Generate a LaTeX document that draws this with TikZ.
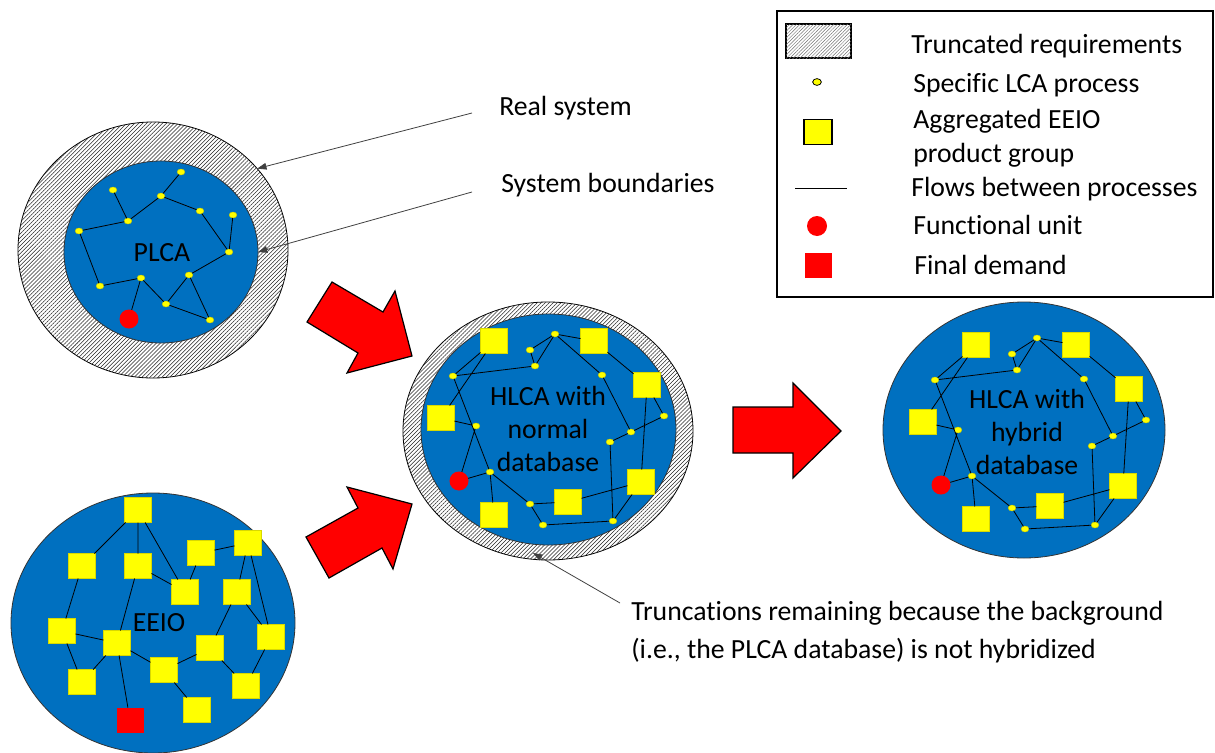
\documentclass[tikz,border=0pt]{standalone}
\usepackage{fontspec}
\setmainfont{Carlito}[Ligatures=NoCommon]
\usetikzlibrary{shapes.geometric,patterns.meta,arrows.meta}
\definecolor{cblue}{HTML}{0070C0}
\definecolor{cyel}{HTML}{FFFF00}
\definecolor{cred}{HTML}{FF0000}
\tikzset{
  dot/.style={ellipse, fill=cyel, draw=cyel!80!black, line width=0.3pt, minimum width=5.8pt, minimum height=4.5pt, inner sep=0pt, outer sep=0pt},
  sq/.style={rectangle, fill=cyel, draw=cyel!85!black, line width=0.3pt, minimum width=20.25pt, minimum height=18.75pt, inner sep=0pt, outer sep=0pt},
  fu/.style={circle, fill=cred, minimum size=14.25pt, inner sep=0pt, outer sep=0pt},
  fd/.style={rectangle, fill=cred, minimum width=20.25pt, minimum height=18.75pt, inner sep=0pt, outer sep=0pt},
  flow/.style={draw=black, line width=0.6pt},
  disk/.style={ellipse, fill=cblue, draw=black!80, line width=0.6pt, inner sep=0pt, outer sep=0pt},
  ring/.style={ellipse, fill=white, postaction={pattern={Lines[angle=45,distance=2.1pt,line width=0.4pt]}, pattern color=black!85}, draw=black, line width=0.6pt, inner sep=0pt, outer sep=0pt},
  bigarrow/.style={fill=cred, draw=black, line width=0.9pt, line join=miter},
  txt/.style={font=\fontsize{20.8}{24.75}\selectfont, inner sep=0pt, align=center},
  ltxt/.style={font=\fontsize{20.8}{24.75}\selectfont, inner sep=0pt, anchor=base west},
  callout/.style={draw=black!75, line width=0.6pt, -{Triangle[length=7pt,width=5pt]}},
}
\newcommand\hlcanet[1]{%
  \node[sq] (#1m1) at (494,341) {};
  \node[sq] (#1m2) at (594,341) {};
  \node[sq] (#1m3) at (647,385) {};
  \node[sq] (#1m4) at (441,418) {};
  \node[sq] (#1m5) at (641,482) {};
  \node[sq] (#1m6) at (568,502) {};
  \node[sq] (#1m7) at (494,515) {};
  \node[dot] (#1d1) at (555,334) {};
  \node[dot] (#1d2) at (530,350) {};
  \node[dot] (#1d3) at (535,366) {};
  \node[dot] (#1d4) at (453,376) {};
  \node[dot] (#1d5) at (602,375) {};
  \node[dot] (#1d6) at (664,416) {};
  \node[dot] (#1d7) at (476,426) {};
  \node[dot] (#1d8) at (631,432) {};
  \node[dot] (#1d9) at (610,442) {};
  \node[dot] (#1d10) at (490,472) {};
  \node[dot] (#1d11) at (530,504) {};
  \node[dot] (#1d12) at (543,525) {};
  \node[dot] (#1d13) at (613,521) {};
  \node[fu] (#1fu) at (459,481) {};
  \draw[flow] (#1d2) -- (#1d1) (#1d1) -- (#1d3) (#1d2) -- (#1d3)
    (#1d1) -- (#1m2) (#1d1) -- (#1d5) (#1m2) -- (#1m3)
    (#1d4) -- (#1d3) (#1d4) -- (#1m1) (#1m1) -- (#1m4)
    (#1d4) -- (#1d10) (#1m4) -- (#1d7) (#1d7) -- (#1fu)
    (#1d10) -- (#1fu) (#1d10) -- (#1m7) (#1d10) -- (#1d11)
    (#1d11) -- (#1m6) (#1d11) -- (#1d12) (#1d12) -- (#1d13)
    (#1d13) -- (#1m5) (#1d13) -- (#1d9) (#1m6) -- (#1m5)
    (#1d9) -- (#1d8) (#1d8) -- (#1d6) (#1d6) -- (#1m3)
    (#1m3) -- (#1m5) (#1d5) -- (#1d8);
}
\begin{document}
\begin{tikzpicture}[x=0.75pt,y=-0.75pt]
\useasboundingbox (0,0) rectangle (1215,753);

% ---------- PLCA ----------
\node[ring, minimum width=202.5pt, minimum height=192pt] (plcaOut) at (153,250) {};
\node[disk, minimum width=145.5pt, minimum height=136.5pt] (plcaIn) at (161,252) {};
\node[txt] (plcaLbl) at (162,253) {PLCA};
\node[dot] (p1) at (181,172) {};
\node[dot] (p2) at (113,190) {};
\node[dot] (p3) at (161,196) {};
\node[dot] (p4) at (200,211) {};
\node[dot] (p5) at (233,215) {};
\node[dot] (p6) at (128,221) {};
\node[dot] (p7) at (79,231) {};
\node[dot] (p8) at (229,252) {};
\node[dot] (p9) at (189,275) {};
\node[dot] (p10) at (141,278) {};
\node[dot] (p11) at (100,286) {};
\node[dot] (p12) at (166,304) {};
\node[dot] (p13) at (210,320) {};
\node[fu] (pfu) at (129,319) {};
\draw[flow] (p1) -- (p3) (p2) -- (p6) (p6) -- (p3) (p6) -- (p7) (p3) -- (p4)
  (p4) -- (p8) (p5) -- (p8) (p7) -- (p11) (p11) -- (p10) (p10) -- (pfu)
  (p10) -- (p12) (p12) -- (p9) (p9) -- (p8) (p9) -- (p13) (p12) -- (p13);

% ---------- EEIO ----------
\node[disk, minimum width=213pt, minimum height=195pt] (eeio) at (153,623) {};
\node[txt] (eeioLbl) at (159,623) {EEIO};
\node[sq] (s1) at (138,510) {};
\node[sq] (s2) at (248,543) {};
\node[sq] (s3) at (201,553) {};
\node[sq] (s4) at (82,566) {};
\node[sq] (s5) at (138,566) {};
\node[sq] (s6) at (185,592) {};
\node[sq] (s7) at (237,592) {};
\node[sq] (s8) at (62,631) {};
\node[sq] (s9) at (271,637) {};
\node[sq] (s10) at (117,643) {};
\node[sq] (s11) at (210,648) {};
\node[sq] (s12) at (164,670) {};
\node[sq] (s13) at (82,682) {};
\node[sq] (s14) at (246,686) {};
\node[sq] (s15) at (197,710) {};
\node[fd] (sfd) at (130,720) {};
\draw[flow] (s1) -- (s4) (s1) -- (s5) (s1) -- (s6) (s3) -- (s6) (s3) -- (s2)
  (s2) -- (s7) (s2) -- (s9) (s5) -- (s6) (s5) -- (s10) (s4) -- (s8)
  (s8) -- (s10) (s8) -- (s13) (s10) -- (s13) (s10) -- (s12) (s10) -- (sfd)
  (s12) -- (s11) (s7) -- (s11) (s7) -- (s9) (s11) -- (s14) (s9) -- (s14)
  (s12) -- (s15);

% ---------- HLCA normal ----------
\node[ring, minimum width=217.5pt, minimum height=193.5pt] (hnOut) at (548,431) {};
\node[disk, minimum width=191.25pt, minimum height=173.25pt] (hnIn) at (548.5,429.5) {};
\node[txt] (hnLbl) at (548,429) {HLCA with\\normal\\database};
\hlcanet{n}

% ---------- HLCA hybrid ----------
\node[disk, minimum width=211.5pt, minimum height=192pt] (hh) at (1024,430) {};
\node[txt] (hhLbl) at (1027,432) {HLCA with\\hybrid\\database};
\begin{scope}[shift={(482,4)}]
\hlcanet{h}
\end{scope}

% ---------- big arrows ----------
\draw[bigarrow] (307,322) -- (332,282) -- (383,312) -- (395,291) -- (412,356) -- (347,373) -- (358,353) -- cycle;
\draw[bigarrow] (306,537) -- (358,508) -- (347,487) -- (412,504) -- (393,569) -- (382,548) -- (329,578) -- cycle;
\draw[bigarrow] (733,407) -- (793,407) -- (793,383) -- (841,431) -- (793,478) -- (793,453) -- (733,453) -- cycle;

% ---------- callouts ----------
\node[ltxt] (realTxt) at (499,115) {Real system};
\node[ltxt] (bndTxt) at (501,192) {System boundaries};
\node[ltxt] (trTxt1) at (631,620) {Truncations remaining because the background};
\node[ltxt] (trTxt2) at (631,658) {(i.e., the PLCA database) is not hybridized};
\coordinate (realStart) at (472,113);
\coordinate (bndStart) at (472,192);
\coordinate (trStart) at (620,603);
\coordinate (trEnd) at (533,553);
\draw[callout] (realStart) -- (plcaOut.38);
\draw[callout] (bndStart) -- (plcaIn.east);
\draw[callout] (trStart) -- (trEnd);

% ---------- legend ----------
\node[draw=black, line width=1.1pt, minimum width=327pt, minimum height=214.5pt, inner sep=0pt] (legend) at (995,154) {};
\node[rectangle, fill=white, postaction={pattern={Lines[angle=45,distance=1.8pt,line width=0.35pt]}, pattern color=black!55}, draw=black, line width=0.9pt, minimum width=48.75pt, minimum height=25.5pt, inner sep=0pt] (lgRing) at (818.5,41) {};
\node[ellipse, fill=cyel, draw=black, line width=0.6pt, minimum width=6.5pt, minimum height=5pt, inner sep=0pt] (lgDot) at (817,82) {};
\node[rectangle, fill=cyel, draw=black, line width=0.8pt, minimum width=21pt, minimum height=18.75pt, inner sep=0pt] (lgSq) at (818,132) {};
\coordinate (lgFlowA) at (795,188);
\coordinate (lgFlowB) at (847,188);
\draw[flow] (lgFlowA) -- (lgFlowB);
\node[fu, minimum size=15pt] (lgFu) at (817,226) {};
\node[fd] (lgFd) at (818,265) {};
\node[ltxt] (lgT1) at (911,53) {Truncated requirements};
\node[ltxt] (lgT2) at (913,92) {Specific LCA process};
\node[ltxt] (lgT3) at (913,128) {Aggregated EEIO};
\node[ltxt] (lgT3b) at (913,162) {product group};
\node[ltxt] (lgT4) at (911,196) {Flows between processes};
\node[ltxt] (lgT5) at (913,234) {Functional unit};
\node[ltxt] (lgT6) at (914,274) {Final demand};
\end{tikzpicture}
\end{document}
